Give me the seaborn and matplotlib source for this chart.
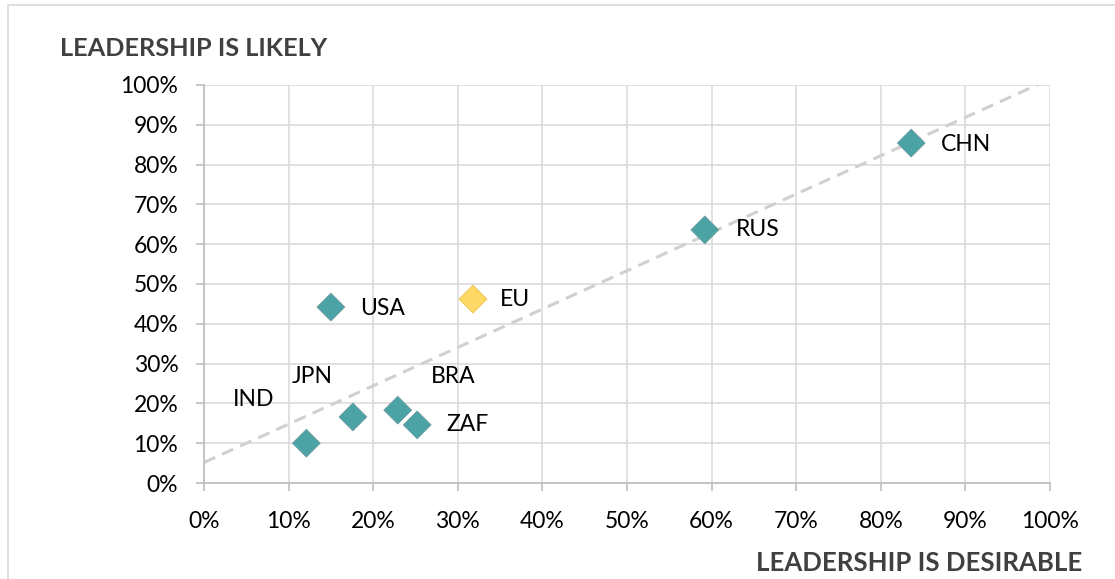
import numpy as np
import pandas as pd
import matplotlib
matplotlib.use("Agg")
import matplotlib.pyplot as plt
import seaborn as sns
from matplotlib.patches import Rectangle

countries = ["USA", "EU", "IND", "JPN", "BRA", "ZAF", "RUS", "CHN"]
desirable = [0.150, 0.318, 0.121, 0.176, 0.229, 0.252, 0.592, 0.836]
likely = [0.442, 0.462, 0.100, 0.166, 0.183, 0.146, 0.636, 0.854]
group = ["other", "eu", "other", "other", "other", "other", "other", "other"]
tick_vals = [0.0, 0.1, 0.2, 0.3, 0.4, 0.5, 0.6, 0.7, 0.8, 0.9, 1.0]
tick_labels = ["0%", "10%", "20%", "30%", "40%", "50%", "60%", "70%", "80%", "90%", "100%"]
# label offsets in points (dx, dy)
label_offsets = {"USA": (21, -1), "EU": (19, 0), "IND": (-53, 31.5), "JPN": (-44, 29),
                 "BRA": (24, 24), "ZAF": (21, 0), "RUS": (22, 0), "CHN": (21, -1)}

df = pd.DataFrame({"country": countries, "desirable": desirable,
                   "likely": likely, "group": group})

sns.set_theme(style="white")
plt.rcParams["font.family"] = ["Lato", "DejaVu Sans"]

fig = plt.figure(figsize=(11.15, 5.79), dpi=100)
ax = fig.add_axes([204/1115, 1-483/579, (1050-204)/1115, (483-85)/579])

# outer border
fig.patches.append(Rectangle((8/1115, -0.1), 1.2, (1-5/579) + 0.1, transform=fig.transFigure,
                             fill=False, edgecolor="#D9D9D9", linewidth=1.2))

# trendline (linear fit)
m, b = np.polyfit(df["desirable"], df["likely"], 1)
xs = np.linspace(0, 1, 200)
ax.plot(xs, m * xs + b, linestyle=(0, (4, 2.5)), color="#D0D0D0", linewidth=2.2, zorder=2)

sns.scatterplot(data=df, x="desirable", y="likely", hue="group",
                palette={"other": "#4BA3A6", "eu": "#FFD966"},
                marker="D", s=200, edgecolor="#8FA9AA", linewidth=0.6,
                legend=False, ax=ax, zorder=3)
for coll in ax.collections:
    fc = coll.get_facecolors()
    ec = ["#E8C04A" if abs(c[0]-1.0) < 0.01 else "#6F9C9E" for c in fc]
    coll.set_edgecolors(ec)

for c, x, y in zip(countries, desirable, likely):
    dx, dy = label_offsets[c]
    ax.annotate(c, (x, y), xytext=(dx, dy), textcoords="offset points",
                ha="left", va="center", fontsize=16.5, color="#000000")

ax.set_xlim(0, 1)
ax.set_ylim(0, 1)
ax.set_xticks(tick_vals)
ax.set_yticks(tick_vals)
ax.set_xticklabels(tick_labels, fontsize=16.5)
ax.set_yticklabels(tick_labels, fontsize=16.5)
ax.grid(True, color="#D9D9D9", linewidth=1.1)
ax.set_axisbelow(True)
for s in ["top", "right"]:
    ax.spines[s].set_visible(False)
for s in ["left", "bottom"]:
    ax.spines[s].set_color("#BFBFBF")
    ax.spines[s].set_linewidth(1.3)
ax.tick_params(axis="both", which="major", length=6, width=1.2, color="#BFBFBF",
               direction="out", bottom=True, left=True, labelcolor="#000000")
ax.tick_params(axis="y", pad=12.5)
ax.tick_params(axis="x", pad=14)
ax.set_xlabel("")
ax.set_ylabel("")

fig.text(60/1115, 1-48/579, "LEADERSHIP IS LIKELY", fontsize=18.3, fontweight="bold",
         color="#404040", ha="left", va="center")
fig.text(1082/1115, 1-563/579, "LEADERSHIP IS DESIRABLE", fontsize=18.5, fontweight="bold",
         color="#404040", ha="right", va="center")

fig.savefig("out.png", dpi=100)
